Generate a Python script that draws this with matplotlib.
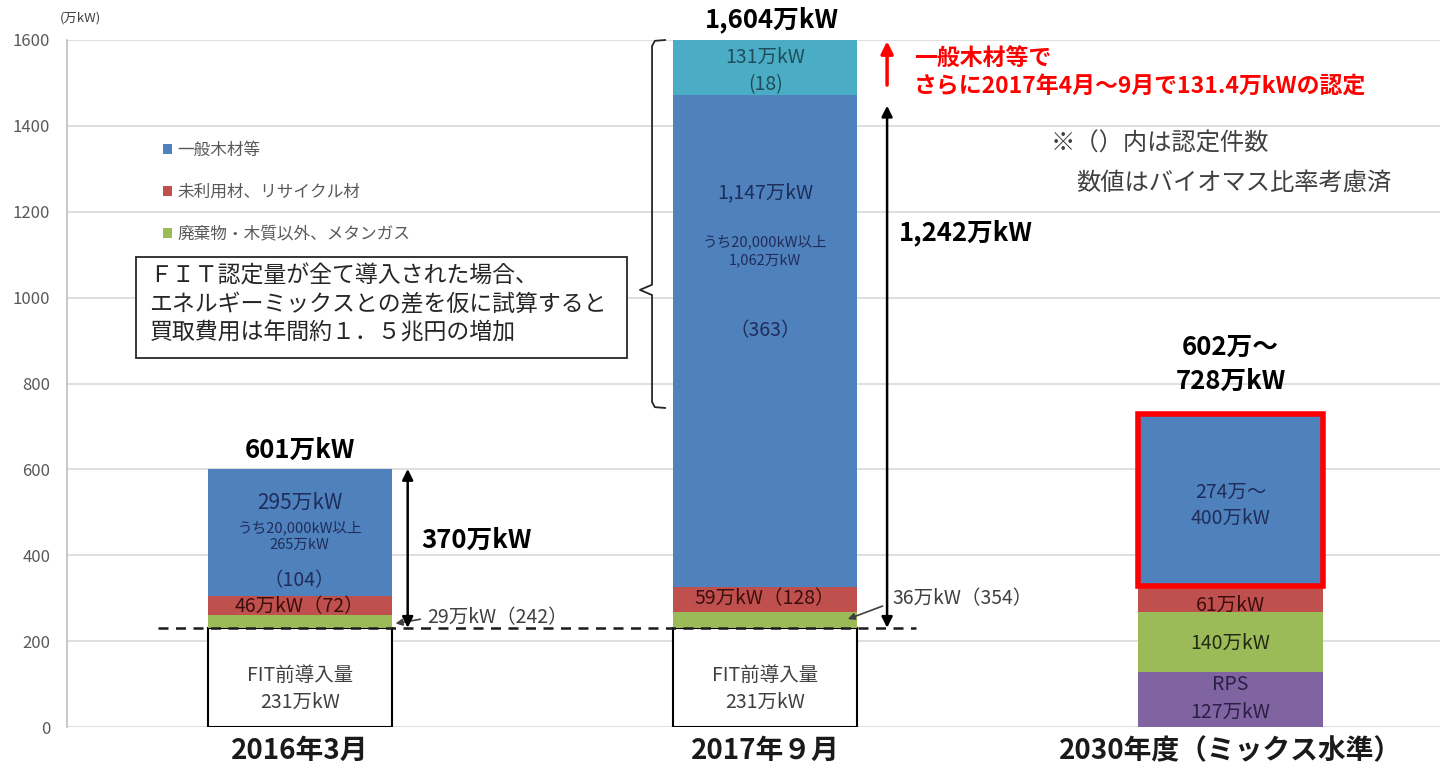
import matplotlib
matplotlib.use("Agg")
import matplotlib.pyplot as plt
from matplotlib.patches import Rectangle
import numpy as np

plt.rcParams['font.family'] = ['Noto Sans CJK JP', 'DejaVu Sans']

# data (万kW)
categories = ['2016年3月', '2017年９月', '2030年度（ミックス水準）']
pre_fit = [231, 231, 0]      # FIT前導入量
rps = [0, 0, 127]            # RPS
waste = [29, 36, 140]        # 廃棄物・木質以外、メタンガス
unused = [46, 59, 61]        # 未利用材、リサイクル材
general = [295, 1147, 400]   # 一般木材等 (2030は上限値)
added = [0, 131, 0]          # 一般木材等 2017年4月～9月の追加認定

total_labels = ['601万kW', '1,604万kW', '602万～\n728万kW']
legend_labels = ['一般木材等', '未利用材、リサイクル材', '廃棄物・木質以外、メタンガス']

C_GENERAL = '#4F81BD'
C_UNUSED = '#C0504D'
C_WASTE = '#9BBB59'
C_RPS = '#8064A2'
C_ADDED = '#4BACC6'

fig = plt.figure(figsize=(14.4, 7.72), dpi=100)
ax = fig.add_axes([67 / 1440, 1 - 727 / 772, 1373 / 1440, 687 / 772])

x = np.arange(len(categories))
w = 0.396
bottom = np.zeros(len(categories))

fit_bars = ax.bar(x, pre_fit, w, bottom=bottom, color='white',
                  edgecolor=['black' if v > 0 else 'none' for v in pre_fit],
                  linewidth=1.5, zorder=3)
bottom += pre_fit
rps_bars = ax.bar(x, rps, w, bottom=bottom, color=C_RPS, zorder=3)
bottom += rps
waste_bars = ax.bar(x, waste, w, bottom=bottom, color=C_WASTE, zorder=3)
bottom += waste
unused_bars = ax.bar(x, unused, w, bottom=bottom, color=C_UNUSED, zorder=3)
bottom += unused
general_bars = ax.bar(x, general, w, bottom=bottom, color=C_GENERAL, zorder=3)
bottom += general
added_bars = ax.bar(x, added, w, bottom=bottom, color=C_ADDED, zorder=3)
bottom += added

# 2030 target box in red
general_bars[2].set_edgecolor('#FF0000')
general_bars[2].set_linewidth(4)
general_bars[2].set_zorder(4)

ax.set_xlim(-0.5, 2.45)
ax.set_ylim(0, 1600)
ax.set_yticks(np.arange(0, 1601, 200))
ax.tick_params(axis='y', length=0, pad=12, labelsize=12, labelcolor='#595959')
ax.set_xticks(x)
ax.set_xticklabels(categories, fontsize=20, fontweight='bold', color='#1a1a1a')
ax.tick_params(axis='x', length=0, pad=7)
ax.grid(axis='y', color='#D9D9D9', linewidth=1.2, zorder=0)
ax.set_axisbelow(True)
for s in ['top', 'right', 'bottom']:
    ax.spines[s].set_visible(False)
ax.spines['left'].set_color('#BFBFBF')
ax.spines['left'].set_linewidth(1.2)

fig.text(60 / 1440, 1 - 18 / 772, '(万kW)', fontsize=9.5, color='#404040', va='center')

# legend
leg = ax.legend([general_bars, unused_bars, waste_bars], legend_labels,
                loc='upper left', bbox_to_anchor=(0.064, 0.864), frameon=False,
                fontsize=12, labelspacing=1.5, handlelength=0.55,
                handleheight=0.55, handletextpad=0.3, borderpad=0)
for t in leg.get_texts():
    t.set_color('#595959')

# FIT line
ax.plot([-0.305, 1.325], [pre_fit[0], pre_fit[0]], ls=(0, (4, 3)), color='#1a1a1a',
        lw=1.8, zorder=5)

# totals on top
ax.text(0, 645, total_labels[0], ha='center', va='center', fontsize=18.5, fontweight='bold')
ax.text(1.015, 1648, total_labels[1], ha='center', va='center', fontsize=18.5,
        fontweight='bold', clip_on=False)
ax.text(2, 845, total_labels[2], ha='center', va='center', fontsize=18.5,
        fontweight='bold', linespacing=1.3)

# in-bar labels
navy = '#1F2D5A'
def lbl(xx, yy, s, size=14, color='#262626'):
    ax.text(xx, yy, s, ha='center', va='center', fontsize=size, color=color, zorder=6)

lbl(0, 521, '295万kW', 15, navy)
lbl(0, 463, 'うち20,000kW以上', 10.5, navy)
lbl(0, 424, '265万kW', 10.5, navy)
lbl(0, 342, '（104）', 14, navy)
lbl(0, 280, '46万kW（72）', 14, '#3B0E0E')
lbl(0, 121, 'FIT前導入量', 14, '#404040')
lbl(0, 58, '231万kW', 14, '#404040')

lbl(1, 1560, '131万kW', 14, '#1F4E5A')
lbl(1, 1495, '(18)', 14, '#1F4E5A')
lbl(1, 1244, '1,147万kW', 14, navy)
lbl(1, 1130, 'うち20,000kW以上', 10.5, navy)
lbl(1, 1088, '1,062万kW', 10.5, navy)
lbl(1, 924, '（363）', 14, navy)
lbl(1, 300, '59万kW（128）', 14, '#3B0E0E')
lbl(1, 121, 'FIT前導入量', 14, '#404040')
lbl(1, 58, '231万kW', 14, '#404040')

lbl(2, 547, '274万～', 14, navy)
lbl(2, 487, '400万kW', 14, navy)
lbl(2, 284, '61万kW', 14, '#3B0E0E')
lbl(2, 196, '140万kW', 14, '#1f2a10')
lbl(2, 98, 'RPS', 14, '#2a1f45')
lbl(2, 35, '127万kW', 14, '#2a1f45')

# side labels with pointers
ax.text(0.273, 254, '29万kW（242）', fontsize=14, color='#404040', va='center', zorder=6)
ax.annotate('', xy=(0.2, 240), xytext=(0.265, 252),
            arrowprops=dict(arrowstyle='-|>', color='#404040', lw=1.2, mutation_scale=10), zorder=6)
ax.text(1.273, 300, '36万kW（354）', fontsize=14, color='#404040', va='center', zorder=6)
ax.annotate('', xy=(1.172, 249), xytext=(1.258, 284),
            arrowprops=dict(arrowstyle='-|>', color='#404040', lw=1.2, mutation_scale=10), zorder=6)

# increase arrows
ax.annotate('', xy=(0.232, 601), xytext=(0.232, 231),
            arrowprops=dict(arrowstyle='<|-|>', color='black', lw=1.8, mutation_scale=16,
                            shrinkA=0, shrinkB=0), zorder=6)
ax.text(0.262, 435, '370万kW', fontsize=18.5, fontweight='bold', va='center')
ax.annotate('', xy=(1.262, 1447), xytext=(1.262, 231),
            arrowprops=dict(arrowstyle='<|-|>', color='black', lw=1.8, mutation_scale=16,
                            shrinkA=0, shrinkB=0), zorder=6)
ax.text(1.288, 1150, '1,242万kW', fontsize=18.5, fontweight='bold', va='center')
ax.annotate('', xy=(1.262, 1597), xytext=(1.262, 1495),
            arrowprops=dict(arrowstyle='-|>', color='#FF0000', lw=2.5, mutation_scale=18,
                            shrinkA=0, shrinkB=0), zorder=6)
ax.text(1.32, 1558, '一般木材等で', fontsize=16.5, fontweight='bold', color='#FF0000', va='center')
ax.text(1.32, 1492, 'さらに2017年4月～9月で131.4万kWの認定', fontsize=16.5,
        fontweight='bold', color='#FF0000', va='center')

# note
ax.text(1.613, 1360, '※（）内は認定件数', fontsize=17.5, color='#404040', va='center')
ax.text(1.669, 1267, '数値はバイオマス比率考慮済', fontsize=17.5, color='#404040', va='center')

# brace
bx, bt, bb, bm = 0.757, 1600, 743, 1018
ax.plot([0.785, bx + 0.006, bx, bx, bx - 0.026, bx, bx, bx + 0.006, 0.785],
        [bt, bt - 2, bt - 14, bm + 12, bm, bm - 12, bb + 14, bb + 2, bb],
        color='#262626', lw=1.3, zorder=5, clip_on=False)

# text box
ax.add_patch(Rectangle((-0.351, 859), 1.054, 236, facecolor='white', edgecolor='#262626',
                       lw=1.3, zorder=5))
for yy, s in zip([1050, 983, 918], ['ＦＩＴ認定量が全て導入された場合、',
                                    'エネルギーミックスとの差を仮に試算すると',
                                    '買取費用は年間約１．５兆円の増加']):
    ax.text(-0.323, yy, s, fontsize=16.5, color='#262626', va='center', zorder=6)

fig.savefig('out.png', dpi=100)
